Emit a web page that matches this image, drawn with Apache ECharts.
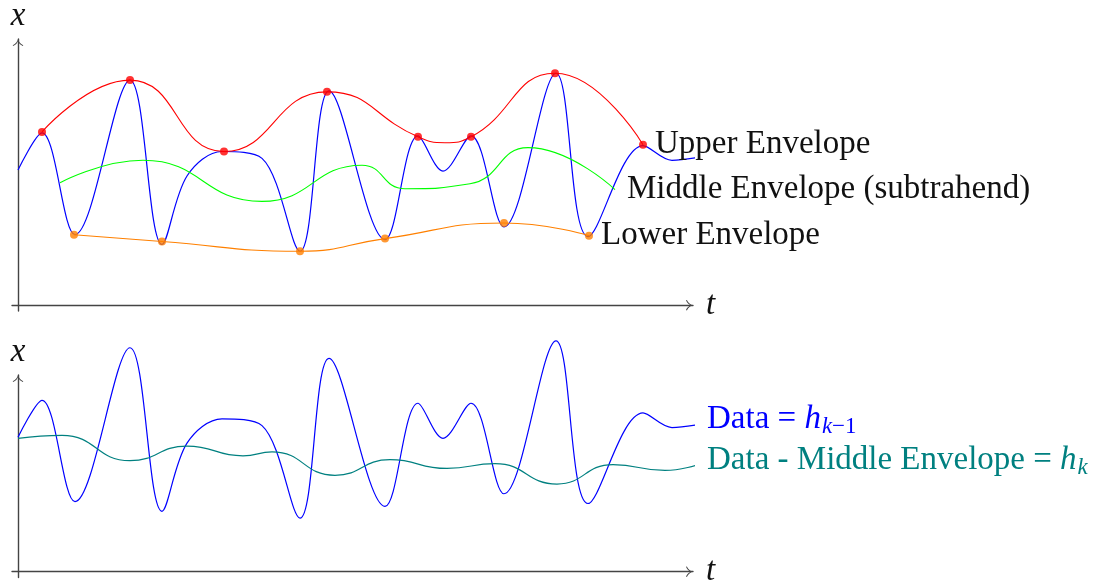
<!DOCTYPE html>
<html>
<head>
<meta charset="utf-8">
<script src="https://cdn.jsdelivr.net/npm/echarts@6/dist/echarts.min.js"></script>
<style>
html,body{margin:0;padding:0;background:#fff;}
#chart{width:1118px;height:588px;}
</style>
</head>
<body>
<div id="chart"></div>
<script>
// ---- data (t, x) ----
var dataSignal = [
  [0,138],[24,176],[57,72],[112,230],[144,62],[169,132],[204,157],[244,150],[282,55],
  [311,219],[367,67],[400,173],[425,137],[453,173],[486,80],[538,237],[570,70],
  [625,163],[654,148],[680,151]
];
var upperEnvelope = [[24,177],[112,230],[206,157],[309,218],[400,172],[427,166],[453,172],[537,237],[625,164]];
var upperDots = [[24,177],[112,230],[206,157],[309,218],[400,172],[453,172],[537,237],[625,164]];
var lowerEnvelope = [[56,72],[144,65],[282,55],[367,68],[486,84],[571,71]];
var middleEnvelope = [[42,125],[125,148],[244,106],[344,143],[387,119],[452,124],[510,161],[597,118]];
var residual = [
  [0,137],[44,140],[112,114],[169,129],[225,119],[254,123],[317,99],[372,115],[429,106],
  [477,111],[539,90],[595,110],[647,104],[680,110]
];
var labelUpper = 'Upper Envelope';
var labelMiddle = 'Middle Envelope (subtrahend)';
var labelLower = 'Lower Envelope';
var labelData = '{n|Data = }{i|h}{s|k}{t|\u22121}';
var labelResidual = '{n|Data - Middle Envelope = }{i|h}{s|k}';
var axisNameT = 't';
var axisNameX = 'x';

var FONT = 'Liberation Serif';
var arrowPath = 'path://M6,0 C6.6,2.6 8.6,5.6 12,7 L11.6,8 C8.6,7 6.8,4.6 6,2.6 C5.2,4.6 3.4,7 0.4,8 L0,7 C3.4,5.6 5.4,2.6 6,0 Z';

function axisLineStyle() {
  return {
    show: true, onZero: true,
    symbol: ['none', arrowPath], symbolSize: [12, 7], symbolOffset: [0, -3.5],
    lineStyle: { color: '#444', width: 1.4 }
  };
}
function nameStyle() {
  return { fontFamily: FONT, fontStyle: 'italic', fontSize: 33, color: '#111' };
}
function xAx(gi) {
  return { type: 'value', gridIndex: gi, min: -6, max: 675, name: axisNameT, nameLocation: 'end', nameGap: 13,
    nameTextStyle: nameStyle(), axisLine: axisLineStyle(), axisTick: {show:false}, axisLabel: {show:false}, splitLine: {show:false} };
}
function yAx(gi, max) {
  return { type: 'value', gridIndex: gi, min: -6, max: max, name: axisNameX, nameLocation: 'end', nameGap: 6,
    nameTextStyle: nameStyle(), axisLine: axisLineStyle(), axisTick: {show:false}, axisLabel: {show:false}, splitLine: {show:false} };
}
var richStyles = {
  n: { fontFamily: FONT, fontSize: 33 },
  i: { fontFamily: FONT, fontSize: 33, fontStyle: 'italic' },
  s: { fontFamily: FONT, fontSize: 23, fontStyle: 'italic', padding: [16, 0, 0, 1] },
  t: { fontFamily: FONT, fontSize: 23, padding: [16, 0, 0, 0] }
};
function plainLabel(text, color, dy) {
  return { show: true, formatter: function(){ return text; }, distance: 12, offset: [0, dy || 0],
    fontFamily: FONT, fontSize: 33, color: color };
}
function richLabel(text, color, dy) {
  return { show: true, formatter: function(){ return text; }, distance: 12, offset: [0, dy || 0],
    fontFamily: FONT, fontSize: 33, color: color, rich: richStyles };
}
function curve(xi, data, color, width, z, smooth, endLabel) {
  var s = { type: 'line', xAxisIndex: xi, yAxisIndex: xi, data: data, smooth: smooth, showSymbol: false, clip: false,
    lineStyle: { color: color, width: width }, itemStyle: { color: color }, z: z, silent: true };
  if (endLabel) s.endLabel = endLabel;
  return s;
}
function dots(data, color) {
  return { type: 'scatter', xAxisIndex: 0, yAxisIndex: 0, data: data, symbol: 'circle', symbolSize: 8,
    itemStyle: { color: color }, z: 5, silent: true };
}

var chart = echarts.init(document.getElementById('chart'), null, { renderer: 'canvas' });
chart.setOption({
  animation: false,
  backgroundColor: '#fff',
  grid: [
    { left: 12, top: 33, width: 681, height: 278 },
    { left: 12, top: 375, width: 681, height: 208 }
  ],
  xAxis: [xAx(0), xAx(1)],
  yAxis: [yAx(0, 272), yAx(1, 202)],
  series: [
    curve(0, dataSignal, '#0000ff', 1.2, 2, 0.35),
    curve(0, upperEnvelope, '#ff0000', 1.1, 3, 0.5, plainLabel(labelUpper, '#111')),
    curve(0, lowerEnvelope, '#ff8000', 1.1, 3, 0.5, plainLabel(labelLower, '#111')),
    curve(0, middleEnvelope, '#00ff00', 1.1, 3, 0.5, plainLabel(labelMiddle, '#111')),
    dots(upperDots, '#ff0000'),
    dots(lowerEnvelope, '#ff8000'),
    curve(1, dataSignal, '#0000ff', 1.2, 2, 0.35, richLabel(labelData, '#0000ff', -6)),
    curve(1, residual, '#008080', 1.2, 3, 0.5, richLabel(labelResidual, '#008080', -5))
  ]
});
</script>
</body>
</html>
